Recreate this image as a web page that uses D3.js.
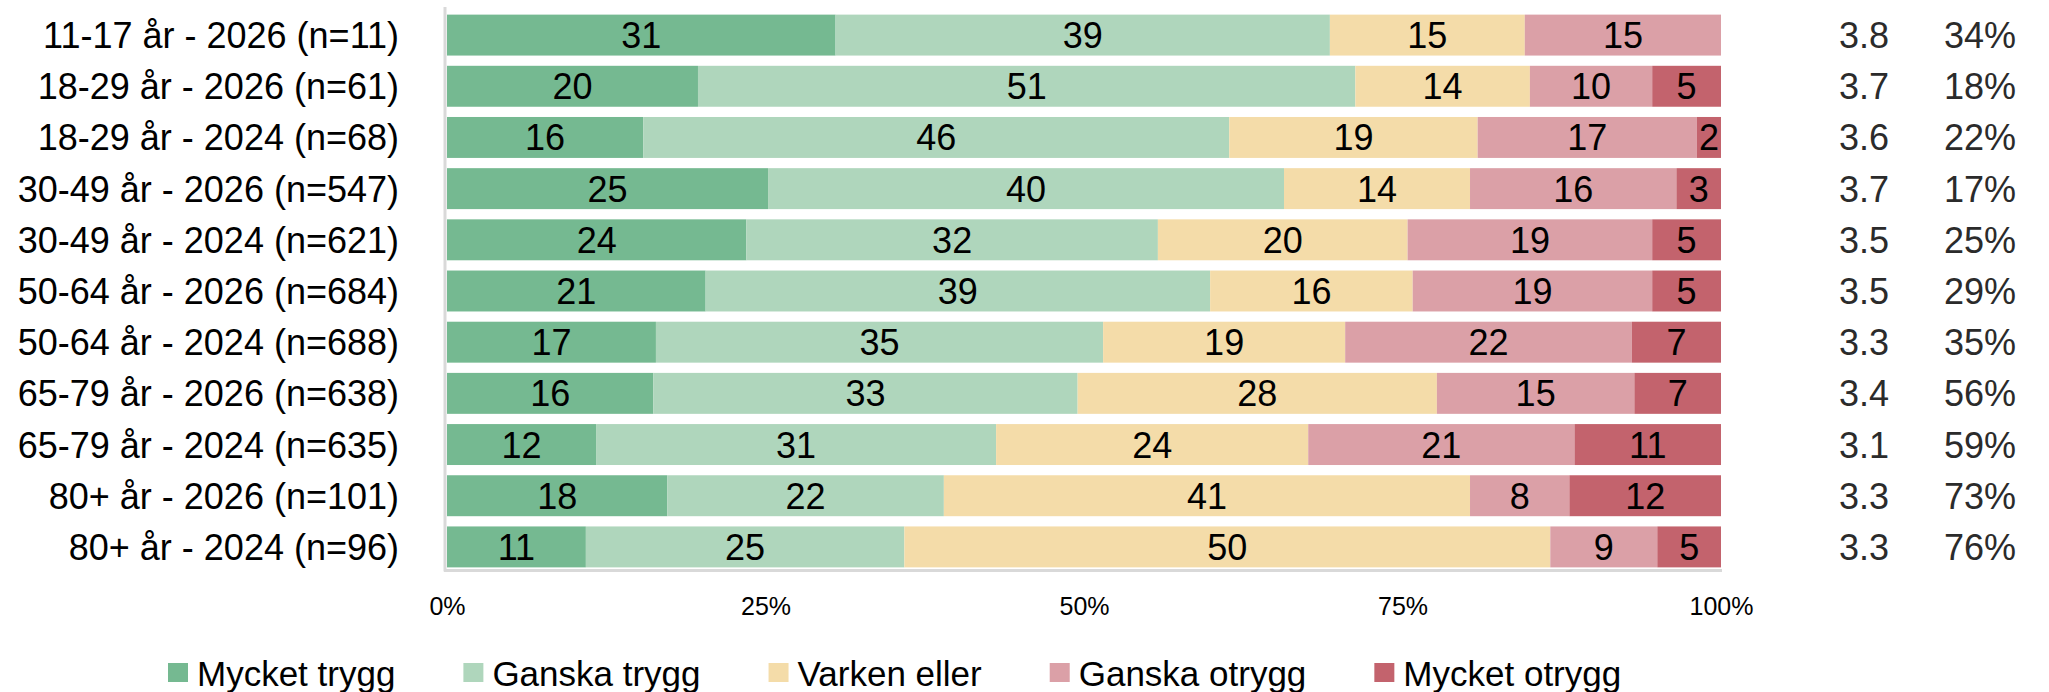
<!DOCTYPE html>
<html>
<head>
<meta charset="utf-8">
<script src="https://cdn.jsdelivr.net/npm/d3@7"></script>
<style>
  body { margin: 0; background: #fff; }
  svg text { font-family: "Liberation Sans", Arial, sans-serif; }
</style>
</head>
<body>
<div id="chart"></div>
<script>
// rows, top to bottom
const categories = [
  "11-17 år - 2026 (n=11)",
  "18-29 år - 2026 (n=61)",
  "18-29 år - 2024 (n=68)",
  "30-49 år - 2026 (n=547)",
  "30-49 år - 2024 (n=621)",
  "50-64 år - 2026 (n=684)",
  "50-64 år - 2024 (n=688)",
  "65-79 år - 2026 (n=638)",
  "65-79 år - 2024 (n=635)",
  "80+ år - 2026 (n=101)",
  "80+ år - 2024 (n=96)"
];
const seriesNames = ["Mycket trygg", "Ganska trygg", "Varken eller", "Ganska otrygg", "Mycket otrygg"];
const seriesColors = ["#75b991", "#afd6bc", "#f4dca9", "#dba0a7", "#c3636d"];

// segment shares (%)
const mycketTrygg  = [30.5, 19.7, 15.4, 25.2, 23.5, 20.3, 16.4, 16.2, 11.7, 17.3, 10.9];
const ganskaTrygg  = [38.8, 51.6, 46.0, 40.5, 32.3, 39.6, 35.1, 33.3, 31.4, 21.7, 25.0];
const varkenEller  = [15.3, 13.7, 19.5, 14.6, 19.6, 15.9, 19.0, 28.2, 24.5, 41.3, 50.7];
const ganskaOtrygg = [15.4,  9.6, 17.2, 16.2, 19.2, 18.8, 22.5, 15.5, 20.9,  7.8,  8.4];
const mycketOtrygg = [ 0.0,  5.4,  1.9,  3.5,  5.4,  5.4,  7.0,  6.8, 11.5, 11.9,  5.0];

// printed labels in the bars
const labelsMycketTrygg  = [31, 20, 16, 25, 24, 21, 17, 16, 12, 18, 11];
const labelsGanskaTrygg  = [39, 51, 46, 40, 32, 39, 35, 33, 31, 22, 25];
const labelsVarkenEller  = [15, 14, 19, 14, 20, 16, 19, 28, 24, 41, 50];
const labelsGanskaOtrygg = [15, 10, 17, 16, 19, 19, 22, 15, 21,  8,  9];
const labelsMycketOtrygg = [null, 5, 2, 3, 5, 5, 7, 7, 11, 12, 5];

// right-hand columns
const meanValues = ["3.8", "3.7", "3.6", "3.7", "3.5", "3.5", "3.3", "3.4", "3.1", "3.3", "3.3"];
const shareValues = ["34%", "18%", "22%", "17%", "25%", "29%", "35%", "56%", "59%", "73%", "76%"];

const xTicks = [0, 25, 50, 75, 100];

const width = 2049, height = 692;
const plot = { left: 447, right: 1721, top: 9.5, bottom: 572.5 };

const seriesValues = [mycketTrygg, ganskaTrygg, varkenEller, ganskaOtrygg, mycketOtrygg];
const seriesLabels = [labelsMycketTrygg, labelsGanskaTrygg, labelsVarkenEller, labelsGanskaOtrygg, labelsMycketOtrygg];

const rows = categories.map(function(c, i) {
  let r = { cat: c };
  seriesNames.forEach(function(s, j) { r[s] = seriesValues[j][i]; });
  return r;
});

const svg = d3.select("#chart").append("svg")
  .attr("width", width)
  .attr("height", height);

const x = d3.scaleLinear().domain([0, 100]).range([plot.left, plot.right]);
const y = d3.scaleBand().domain(categories).range([plot.top, plot.bottom])
  .paddingInner(0.2).paddingOuter(0.1);

const stacked = d3.stack().keys(seriesNames)(rows);

// bars
const layers = svg.selectAll("g.layer").data(stacked).enter().append("g")
  .attr("class", "layer")
  .attr("fill", function(d, j) { return seriesColors[j]; });

layers.selectAll("rect").data(function(d) { return d; }).enter().append("rect")
  .attr("x", function(d) { return x(d[0]); })
  .attr("y", function(d) { return y(d.data.cat); })
  .attr("width", function(d) { return Math.max(0, x(d[1]) - x(d[0])); })
  .attr("height", y.bandwidth());

// labels in bars
stacked.forEach(function(layer, j) {
  layer.forEach(function(d, i) {
    let lab = seriesLabels[j][i];
    if (lab === null || d[1] - d[0] <= 0) return;
    svg.append("text")
      .attr("x", (x(d[0]) + x(d[1])) / 2)
      .attr("y", y(d.data.cat) + y.bandwidth() / 2)
      .attr("dy", "0.36em")
      .attr("text-anchor", "middle")
      .style("font-size", "36px")
      .style("fill", "#000")
      .text(lab);
  });
});

// frame lines (left + bottom)
svg.append("line")
  .attr("x1", plot.left - 2).attr("x2", plot.left - 2)
  .attr("y1", 7).attr("y2", plot.bottom - 1)
  .style("stroke", "#d9d9d9").style("stroke-width", 3);
svg.append("line")
  .attr("x1", plot.left - 3).attr("x2", plot.right + 1)
  .attr("y1", plot.bottom - 2).attr("y2", plot.bottom - 2)
  .style("stroke", "#d9d9d9").style("stroke-width", 3);

// category labels
const yAxis = svg.append("g")
  .attr("transform", "translate(" + (plot.left - 48) + ",0)")
  .call(d3.axisLeft(y).tickSize(0).tickPadding(0));
yAxis.select(".domain").remove();
yAxis.selectAll("text")
  .style("font-size", "36px")
  .style("fill", "#000")
  .attr("dy", "0.36em");

// x axis ticks
const xAxis = svg.append("g")
  .attr("transform", "translate(0," + 606 + ")")
  .call(d3.axisBottom(x).tickValues(xTicks).tickSize(0).tickPadding(0)
    .tickFormat(function(d) { return d + "%"; }));
xAxis.select(".domain").remove();
xAxis.selectAll("text")
  .style("font-size", "25px")
  .style("fill", "#000")
  .attr("dy", "0.36em");

// right columns
svg.selectAll("text.mean").data(meanValues).enter().append("text")
  .attr("class", "mean")
  .attr("x", 1864)
  .attr("y", function(d, i) { return y(categories[i]) + y.bandwidth() / 2; })
  .attr("dy", "0.36em")
  .attr("text-anchor", "middle")
  .style("font-size", "36px")
  .style("fill", "#2b2b2b")
  .text(function(d) { return d; });

svg.selectAll("text.share").data(shareValues).enter().append("text")
  .attr("class", "share")
  .attr("x", 2016)
  .attr("y", function(d, i) { return y(categories[i]) + y.bandwidth() / 2; })
  .attr("dy", "0.36em")
  .attr("text-anchor", "end")
  .style("font-size", "36px")
  .style("fill", "#2b2b2b")
  .text(function(d) { return d; });

// legend
const legend = svg.append("g").attr("transform", "translate(168,0)");
let lx = 0;
seriesNames.forEach(function(name, j) {
  let g = legend.append("g").attr("transform", "translate(" + lx + ",0)");
  g.append("rect")
    .attr("x", 0).attr("y", 663)
    .attr("width", 20).attr("height", 19)
    .style("fill", seriesColors[j]);
  let t = g.append("text")
    .attr("x", 29).attr("y", 673)
    .attr("dy", "0.36em")
    .style("font-size", "35px")
    .style("fill", "#000")
    .text(name);
  lx += 29 + t.node().getComputedTextLength() + 68;
});
</script>
</body>
</html>
